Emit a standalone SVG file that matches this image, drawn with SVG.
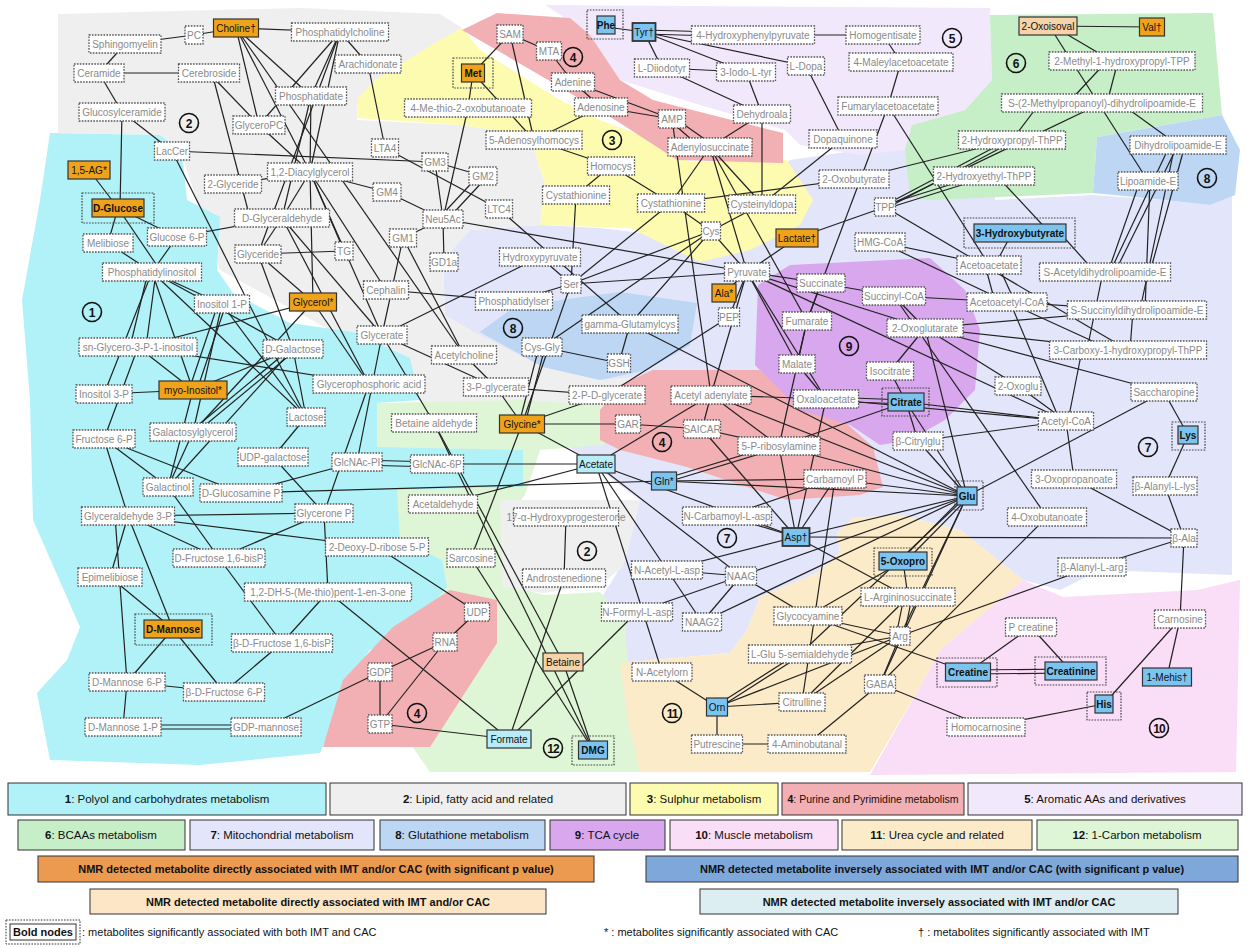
<svg xmlns="http://www.w3.org/2000/svg" width="1252" height="948" viewBox="0 0 1252 948">
<style>
text{font-family:"Liberation Sans",Arial,sans-serif;font-size:10px;text-anchor:middle}
.n rect{fill:#fff;stroke:#555;stroke-width:1.3;stroke-dasharray:1.6 1.3}
.n text{fill:#8a8a8a}
.f rect.i{stroke:#333;stroke-width:1.2}
.o rect.i{fill:#EFA31B}
.b rect.i{fill:#7CC4F0}
.c rect.i{fill:#B8ECF8}
.p rect.i{fill:#F7D3A9}
.f text{fill:#111}
.bd text{font-weight:bold}
rect.x{fill:none;stroke:#444;stroke-width:1.2;stroke-dasharray:1.6 1.3}
#edges line{stroke:#222;stroke-width:1.2}
.cl circle{fill:none;stroke:#111;stroke-width:1.6}
.cl text{font-size:12px;font-weight:bold;fill:#111}
.lg rect{stroke:#333;stroke-width:1}
.lg text{font-size:11.5px;fill:#111}
.lg text.s{font-size:11px}
.lg text.st{text-anchor:start}
</style>
<rect width="1252" height="948" fill="#fff"/>
<g id="regions">
<polygon fill="#E3E5FB" points="470,230 540,225 600,228 700,240 790,160 860,150 910,125 990,110 995,200 1093,195 1165,200 1210,205 1232,195 1232,575 1100,570 1060,590 1023,580 960,530 900,515 853,518 837,533 840,553 817,573 760,597 747,630 730,653 620,663 600,600 625,560 640,500 600,470 560,440 520,400 480,360 445,315 443,260"/>
<polygon fill="#EFEFEF" points="58,14 300,8 440,14 462,28 358,98 357,120 460,125 530,135 545,185 540,225 470,230 443,260 445,315 480,335 543,367 600,380 650,375 640,410 600,412 520,405 430,410 330,330 220,270 180,150 160,135 58,133"/>
<polygon fill="#DFF6D6" points="377,403 520,400 600,405 605,445 540,450 525,495 505,520 505,585 545,595 600,592 625,620 630,700 640,772 430,772 380,700 370,500"/>
<polygon fill="#B0F2F8" points="50,133 160,135 182,152 187,200 220,217 217,270 233,293 290,323 353,332 410,358 420,400 377,403 377,447 523,450 523,487 397,490 400,540 442,560 447,587 410,630 370,650 340,690 330,730 320,753 200,765 50,760 37,693 67,660 80,627 33,520 30,400 22,300 40,200"/>
<polygon fill="#EFEFEF" points="500,500 640,500 623,567 600,585 543,593 503,587"/>
<polygon fill="#F3B0B4" points="450,590 497,600 497,643 443,727 430,747 323,747 343,680 393,627"/>
<polygon fill="#FCEBC8" points="620,663 730,653 747,630 760,597 817,573 840,553 837,533 853,518 900,515 960,530 1023,580 940,650 920,687 870,772 640,772 628,720"/>
<polygon fill="#FADDF6" points="940,650 1023,580 1063,597 1197,590 1240,580 1236,772 870,775 920,687"/>
<polygon fill="#F1E8FB" points="545,5 990,8 992,80 965,110 912,125 905,150 860,155 800,145 785,130 700,105 620,80 590,35 565,18"/>
<polygon fill="#FDFBB0" points="462,28 440,40 375,80 358,98 357,118 460,125 530,135 545,185 540,225 630,228 700,262 750,250 800,225 813,200 800,180 787,160 690,162 640,135 600,120 560,100 520,75 480,50"/>
<polygon fill="#F3B0B4" points="462,30 497,13 570,18 590,35 620,80 653,100 783,133 783,163 677,160 620,123 570,93 543,77"/>
<polygon fill="#F3B0B4" points="600,410 620,385 653,370 760,370 777,383 820,400 873,447 883,487 860,495 787,500 687,467 620,450 600,440"/>
<polygon fill="#BCD6F4" points="480,332 510,310 560,300 620,292 697,303 690,345 647,370 600,380 543,367"/>
<polygon fill="#D8A7EE" points="758,285 790,265 930,258 965,290 980,330 975,390 945,420 910,440 880,445 850,425 800,410 780,390 755,365"/>
<polygon fill="#C6EFC8" points="990,15 1213,13 1222,115 1097,137 1093,193 930,200 910,197 905,150 912,125 965,110 992,80"/>
<polygon fill="#BCD6F4" points="1097,137 1222,115 1240,150 1235,195 1210,205 1165,200 1093,193"/>
</g>
<g id="edges">
<line x1="125" y1="44" x2="194" y2="35"/><line x1="194" y1="35" x2="236" y2="28"/><line x1="236" y1="28" x2="340" y2="32"/>
<line x1="125" y1="44" x2="99" y2="73"/><line x1="99" y1="73" x2="209" y2="73"/><line x1="99" y1="73" x2="122" y2="112"/>
<line x1="122" y1="112" x2="172" y2="151"/><line x1="122" y1="112" x2="120" y2="208"/><line x1="172" y1="151" x2="435" y2="162"/>
<line x1="172" y1="151" x2="306" y2="417"/><line x1="212" y1="73" x2="250" y2="218"/><line x1="209" y1="73" x2="259" y2="125"/>
<line x1="236" y1="28" x2="259" y2="125"/><line x1="236" y1="28" x2="311" y2="96"/><line x1="236" y1="28" x2="310" y2="172"/>
<line x1="236" y1="28" x2="464" y2="355"/><line x1="340" y1="32" x2="259" y2="125"/><line x1="340" y1="32" x2="311" y2="96"/>
<line x1="340" y1="32" x2="310" y2="172"/><line x1="340" y1="32" x2="368" y2="64"/><line x1="340" y1="32" x2="258" y2="254"/>
<line x1="368" y1="64" x2="385" y2="148"/><line x1="385" y1="148" x2="499" y2="209"/><line x1="310" y1="172" x2="387" y2="192"/>
<line x1="387" y1="192" x2="443" y2="219"/><line x1="435" y1="162" x2="483" y2="176"/><line x1="435" y1="162" x2="443" y2="219"/>
<line x1="480" y1="174" x2="440" y2="217"/><line x1="486" y1="178" x2="446" y2="221"/><line x1="468" y1="108" x2="443" y2="219"/>
<line x1="443" y1="219" x2="403" y2="238"/><line x1="443" y1="219" x2="444" y2="262"/><line x1="443" y1="219" x2="747" y2="272"/>
<line x1="259" y1="125" x2="310" y2="172"/><line x1="311" y1="96" x2="310" y2="172"/><line x1="311" y1="96" x2="282" y2="218"/>
<line x1="233" y1="184" x2="310" y2="172"/><line x1="310" y1="172" x2="282" y2="218"/><line x1="310" y1="172" x2="344" y2="251"/>
<line x1="310" y1="172" x2="313" y2="302"/><line x1="310" y1="172" x2="382" y2="335"/><line x1="282" y1="218" x2="177" y2="237"/>
<line x1="282" y1="218" x2="258" y2="254"/><line x1="282" y1="218" x2="382" y2="335"/><line x1="282" y1="218" x2="369" y2="384"/>
<line x1="258" y1="254" x2="313" y2="302"/><line x1="258" y1="254" x2="344" y2="251"/><line x1="258" y1="254" x2="293" y2="349"/>
<line x1="403" y1="238" x2="382" y2="335"/><line x1="403" y1="238" x2="464" y2="355"/><line x1="386" y1="290" x2="514" y2="301"/>
<line x1="386" y1="290" x2="310" y2="172"/><line x1="382" y1="335" x2="540" y2="257"/><line x1="382" y1="335" x2="496" y2="387"/>
<line x1="382" y1="335" x2="357" y2="462"/><line x1="382" y1="335" x2="434" y2="423"/><line x1="464" y1="355" x2="496" y2="387"/>
<line x1="496" y1="387" x2="607" y2="395"/><line x1="496" y1="387" x2="522" y2="424"/><line x1="607" y1="395" x2="522" y2="424"/>
<line x1="607" y1="395" x2="729" y2="317"/><line x1="571" y1="284" x2="514" y2="301"/><line x1="571" y1="284" x2="540" y2="257"/>
<line x1="571" y1="284" x2="522" y2="424"/><line x1="571" y1="284" x2="747" y2="272"/><line x1="571" y1="284" x2="711" y2="231"/>
<line x1="571" y1="284" x2="671" y2="203"/><line x1="576" y1="195" x2="571" y2="284"/><line x1="542" y1="347" x2="619" y2="363"/>
<line x1="630" y1="324" x2="619" y2="363"/><line x1="539" y1="347" x2="519" y2="424"/><line x1="545" y1="347" x2="525" y2="424"/>
<line x1="542" y1="347" x2="711" y2="231"/><line x1="522" y1="424" x2="628" y2="424"/><line x1="522" y1="424" x2="596" y2="464"/>
<line x1="522" y1="424" x2="471" y2="558"/><line x1="471" y1="558" x2="593" y2="750"/><line x1="434" y1="423" x2="563" y2="662"/>
<line x1="434" y1="423" x2="593" y2="750"/><line x1="563" y1="662" x2="593" y2="750"/><line x1="357" y1="460" x2="437" y2="462"/>
<line x1="357" y1="465" x2="437" y2="467"/><line x1="437" y1="464" x2="596" y2="464"/><line x1="241" y1="493" x2="357" y2="462"/>
<line x1="241" y1="493" x2="664" y2="481"/><line x1="443" y1="504" x2="596" y2="464"/><line x1="596" y1="464" x2="662" y2="672"/>
<line x1="596" y1="464" x2="711" y2="395"/><line x1="596" y1="464" x2="667" y2="570"/><line x1="596" y1="464" x2="741" y2="576"/>
<line x1="596" y1="464" x2="796" y2="537"/><line x1="566" y1="517" x2="564" y2="578"/><line x1="564" y1="578" x2="509" y2="739"/>
<line x1="637" y1="612" x2="509" y2="739"/><line x1="380" y1="724" x2="509" y2="739"/><line x1="328" y1="592" x2="509" y2="739"/>
<line x1="477" y1="612" x2="445" y2="642"/><line x1="445" y1="642" x2="380" y2="672"/><line x1="445" y1="642" x2="380" y2="724"/>
<line x1="380" y1="672" x2="380" y2="724"/><line x1="380" y1="672" x2="266" y2="727"/><line x1="477" y1="612" x2="377" y2="547"/>
<line x1="637" y1="612" x2="741" y2="576"/>
<line x1="118" y1="208" x2="89" y2="170"/><line x1="118" y1="208" x2="108" y2="243"/><line x1="118" y1="208" x2="177" y2="237"/>
<line x1="118" y1="208" x2="160" y2="270"/><line x1="108" y1="243" x2="152" y2="272"/><line x1="177" y1="237" x2="152" y2="272"/>
<line x1="152" y1="272" x2="222" y2="304"/><line x1="148" y1="272" x2="130" y2="347"/><line x1="156" y1="272" x2="146" y2="347"/>
<line x1="152" y1="272" x2="193" y2="390"/><line x1="152" y1="272" x2="104" y2="394"/><line x1="152" y1="272" x2="306" y2="417"/>
<line x1="152" y1="272" x2="293" y2="349"/><line x1="218" y1="304" x2="189" y2="390"/><line x1="226" y1="304" x2="197" y2="390"/>
<line x1="222" y1="304" x2="306" y2="417"/><line x1="222" y1="304" x2="193" y2="432"/><line x1="138" y1="347" x2="313" y2="302"/>
<line x1="138" y1="347" x2="369" y2="384"/><line x1="138" y1="347" x2="193" y2="390"/><line x1="138" y1="347" x2="104" y2="439"/>
<line x1="104" y1="394" x2="193" y2="390"/><line x1="193" y1="390" x2="168" y2="487"/><line x1="193" y1="390" x2="293" y2="349"/>
<line x1="313" y1="302" x2="369" y2="384"/><line x1="313" y1="302" x2="193" y2="432"/><line x1="290" y1="349" x2="190" y2="432"/>
<line x1="297" y1="349" x2="197" y2="432"/><line x1="293" y1="349" x2="306" y2="417"/><line x1="293" y1="349" x2="168" y2="487"/>
<line x1="193" y1="432" x2="168" y2="487"/><line x1="104" y1="439" x2="168" y2="487"/><line x1="104" y1="439" x2="128" y2="516"/>
<line x1="104" y1="439" x2="241" y2="493"/><line x1="306" y1="417" x2="273" y2="457"/><line x1="273" y1="457" x2="324" y2="513"/>
<line x1="168" y1="487" x2="219" y2="558"/><line x1="128" y1="516" x2="324" y2="513"/><line x1="128" y1="516" x2="219" y2="558"/>
<line x1="128" y1="516" x2="110" y2="577"/><line x1="128" y1="516" x2="173" y2="629"/><line x1="115" y1="516" x2="127" y2="682"/>
<line x1="128" y1="516" x2="377" y2="547"/><line x1="324" y1="513" x2="219" y2="558"/><line x1="324" y1="513" x2="369" y2="384"/>
<line x1="324" y1="513" x2="328" y2="592"/><line x1="110" y1="577" x2="173" y2="629"/><line x1="173" y1="629" x2="127" y2="682"/>
<line x1="173" y1="629" x2="224" y2="692"/><line x1="127" y1="682" x2="224" y2="692"/><line x1="127" y1="682" x2="123" y2="727"/>
<line x1="224" y1="692" x2="282" y2="643"/><line x1="219" y1="558" x2="282" y2="643"/><line x1="328" y1="592" x2="282" y2="643"/>
<line x1="123" y1="725" x2="266" y2="725"/><line x1="123" y1="729" x2="266" y2="729"/>
<line x1="473" y1="73" x2="468" y2="108"/><line x1="473" y1="73" x2="510" y2="34"/><line x1="473" y1="73" x2="534" y2="140"/>
<line x1="510" y1="34" x2="549" y2="51"/><line x1="510" y1="34" x2="534" y2="140"/><line x1="549" y1="51" x2="573" y2="82"/>
<line x1="573" y1="82" x2="601" y2="107"/><line x1="573" y1="82" x2="672" y2="119"/><line x1="601" y1="107" x2="672" y2="119"/>
<line x1="601" y1="107" x2="534" y2="140"/><line x1="534" y1="140" x2="611" y2="166"/><line x1="611" y1="166" x2="576" y2="195"/>
<line x1="611" y1="166" x2="671" y2="203"/><line x1="668" y1="119" x2="700" y2="147"/><line x1="676" y1="119" x2="716" y2="147"/>
<line x1="672" y1="119" x2="711" y2="395"/><line x1="710" y1="147" x2="762" y2="114"/><line x1="710" y1="147" x2="671" y2="203"/>
<line x1="710" y1="147" x2="762" y2="204"/><line x1="710" y1="147" x2="747" y2="272"/><line x1="710" y1="147" x2="807" y2="321"/>
<line x1="499" y1="209" x2="630" y2="324"/>
<line x1="606" y1="27" x2="644" y2="32"/><line x1="644" y1="30" x2="753" y2="33"/><line x1="644" y1="34" x2="753" y2="37"/>
<line x1="753" y1="35" x2="883" y2="35"/><line x1="883" y1="35" x2="901" y2="62"/><line x1="901" y1="62" x2="888" y2="106"/>
<line x1="644" y1="32" x2="662" y2="68"/><line x1="644" y1="32" x2="746" y2="72"/><line x1="644" y1="32" x2="806" y2="66"/>
<line x1="662" y1="68" x2="746" y2="72"/><line x1="662" y1="68" x2="762" y2="114"/><line x1="746" y1="72" x2="762" y2="114"/>
<line x1="806" y1="66" x2="843" y2="139"/><line x1="762" y1="114" x2="762" y2="204"/><line x1="843" y1="139" x2="762" y2="204"/>
<line x1="888" y1="106" x2="807" y2="321"/><line x1="888" y1="106" x2="989" y2="265"/><line x1="671" y1="203" x2="854" y2="179"/>
<line x1="854" y1="179" x2="1012" y2="140"/><line x1="671" y1="203" x2="711" y2="231"/><line x1="711" y1="231" x2="762" y2="204"/>
<line x1="711" y1="231" x2="747" y2="272"/><line x1="711" y1="231" x2="630" y2="324"/><line x1="797" y1="238" x2="747" y2="272"/>
<line x1="797" y1="238" x2="885" y2="207"/><line x1="885" y1="205" x2="1012" y2="138"/><line x1="885" y1="209" x2="1012" y2="142"/>
<line x1="885" y1="205" x2="984" y2="174"/><line x1="885" y1="209" x2="984" y2="178"/><line x1="885" y1="207" x2="1102" y2="103"/>
<line x1="885" y1="207" x2="1128" y2="350"/><line x1="880" y1="242" x2="989" y2="265"/><line x1="880" y1="242" x2="1007" y2="302"/>
<line x1="1048" y1="26" x2="1152" y2="27"/><line x1="1068" y1="35" x2="1102" y2="55"/><line x1="1055" y1="35" x2="1148" y2="181"/>
<line x1="1107" y1="61" x2="1068" y2="103"/><line x1="1118" y1="61" x2="1107" y2="103"/><line x1="1040" y1="103" x2="1012" y2="140"/>
<line x1="1120" y1="103" x2="1178" y2="145"/><line x1="997" y1="176" x2="1050" y2="233"/><line x1="1012" y1="233" x2="995" y2="265"/>
<line x1="1060" y1="233" x2="1095" y2="272"/><line x1="1170" y1="145" x2="1110" y2="272"/><line x1="1178" y1="145" x2="1115" y2="272"/>
<line x1="1185" y1="145" x2="1150" y2="272"/><line x1="1175" y1="145" x2="1140" y2="310"/><line x1="1140" y1="181" x2="1108" y2="272"/>
<line x1="1150" y1="181" x2="1145" y2="310"/><line x1="985" y1="265" x2="995" y2="302"/><line x1="998" y1="265" x2="1015" y2="302"/>
<line x1="1007" y1="302" x2="1137" y2="310"/><line x1="1007" y1="302" x2="1112" y2="350"/><line x1="1010" y1="302" x2="1060" y2="421"/>
<line x1="1103" y1="272" x2="1087" y2="350"/><line x1="1133" y1="310" x2="1130" y2="350"/><line x1="1082" y1="350" x2="1068" y2="421"/>
<line x1="925" y1="328" x2="1137" y2="310"/><line x1="925" y1="328" x2="1128" y2="350"/><line x1="925" y1="328" x2="1164" y2="392"/>
<line x1="925" y1="328" x2="1018" y2="386"/><line x1="925" y1="328" x2="967" y2="496"/><line x1="1018" y1="386" x2="1066" y2="421"/>
<line x1="1066" y1="421" x2="906" y2="402"/><line x1="1066" y1="421" x2="826" y2="399"/><line x1="1066" y1="421" x2="1074" y2="479"/>
<line x1="1066" y1="421" x2="918" y2="441"/><line x1="1074" y1="479" x2="1184" y2="538"/><line x1="1164" y1="392" x2="1188" y2="435"/>
<line x1="1164" y1="392" x2="967" y2="496"/><line x1="1188" y1="435" x2="1165" y2="486"/><line x1="1165" y1="486" x2="1184" y2="538"/>
<line x1="1047" y1="517" x2="894" y2="296"/><line x1="1047" y1="517" x2="880" y2="684"/><line x1="796" y1="537" x2="1184" y2="538"/>
<line x1="1184" y1="538" x2="1092" y2="567"/><line x1="1092" y1="567" x2="900" y2="636"/><line x1="1184" y1="538" x2="1180" y2="619"/>
<line x1="1180" y1="619" x2="1104" y2="704"/><line x1="1180" y1="619" x2="1167" y2="677"/><line x1="1104" y1="704" x2="986" y2="727"/>
<line x1="986" y1="727" x2="880" y2="684"/><line x1="1031" y1="627" x2="968" y2="672"/><line x1="1031" y1="627" x2="1071" y2="671"/>
<line x1="968" y1="670" x2="1071" y2="669"/><line x1="968" y1="674" x2="1071" y2="673"/><line x1="808" y1="616" x2="968" y2="672"/>
<line x1="821" y1="283" x2="894" y2="296"/><line x1="821" y1="283" x2="807" y2="321"/><line x1="807" y1="321" x2="797" y2="364"/>
<line x1="797" y1="364" x2="826" y2="399"/><line x1="826" y1="397" x2="906" y2="400"/><line x1="826" y1="401" x2="906" y2="404"/>
<line x1="906" y1="402" x2="890" y2="371"/><line x1="890" y1="371" x2="925" y2="328"/><line x1="894" y1="296" x2="925" y2="328"/>
<line x1="894" y1="296" x2="1007" y2="302"/><line x1="747" y1="272" x2="826" y2="399"/><line x1="747" y1="272" x2="797" y2="364"/>
<line x1="747" y1="272" x2="1066" y2="421"/><line x1="747" y1="272" x2="729" y2="317"/><line x1="747" y1="272" x2="724" y2="293"/>
<line x1="747" y1="272" x2="711" y2="395"/><line x1="747" y1="272" x2="925" y2="328"/><line x1="747" y1="272" x2="821" y2="283"/>
<line x1="826" y1="399" x2="796" y2="537"/><line x1="906" y1="402" x2="918" y2="441"/><line x1="918" y1="441" x2="967" y2="496"/>
<line x1="906" y1="402" x2="967" y2="496"/><line x1="711" y1="395" x2="826" y2="399"/><line x1="711" y1="395" x2="702" y2="429"/>
<line x1="711" y1="395" x2="779" y2="446"/><line x1="711" y1="395" x2="967" y2="496"/><line x1="628" y1="424" x2="702" y2="429"/>
<line x1="702" y1="429" x2="779" y2="446"/><line x1="779" y1="444" x2="664" y2="479"/><line x1="779" y1="448" x2="664" y2="483"/>
<line x1="779" y1="446" x2="967" y2="496"/><line x1="779" y1="446" x2="796" y2="537"/><line x1="779" y1="446" x2="906" y2="402"/>
<line x1="835" y1="479" x2="967" y2="496"/><line x1="835" y1="479" x2="796" y2="537"/><line x1="835" y1="479" x2="802" y2="702"/>
<line x1="835" y1="479" x2="727" y2="516"/><line x1="727" y1="516" x2="796" y2="537"/><line x1="664" y1="481" x2="967" y2="496"/>
<line x1="664" y1="481" x2="835" y2="479"/><line x1="630" y1="324" x2="967" y2="496"/><line x1="807" y1="321" x2="779" y2="446"/>
<line x1="796" y1="537" x2="702" y2="429"/><line x1="796" y1="537" x2="667" y2="570"/><line x1="796" y1="537" x2="908" y2="597"/>
<line x1="796" y1="537" x2="967" y2="496"/><line x1="667" y1="570" x2="741" y2="576"/><line x1="667" y1="570" x2="702" y2="622"/>
<line x1="741" y1="576" x2="702" y2="622"/><line x1="741" y1="576" x2="967" y2="496"/><line x1="702" y1="622" x2="967" y2="496"/>
<line x1="741" y1="576" x2="808" y2="616"/><line x1="662" y1="672" x2="717" y2="707"/><line x1="717" y1="707" x2="802" y2="702"/>
<line x1="717" y1="705" x2="800" y2="652"/><line x1="717" y1="709" x2="800" y2="656"/><line x1="717" y1="707" x2="717" y2="744"/>
<line x1="717" y1="707" x2="900" y2="636"/><line x1="717" y1="744" x2="807" y2="744"/><line x1="807" y1="744" x2="880" y2="684"/>
<line x1="802" y1="702" x2="900" y2="636"/><line x1="802" y1="702" x2="908" y2="597"/><line x1="800" y1="654" x2="967" y2="496"/>
<line x1="800" y1="654" x2="900" y2="636"/><line x1="808" y1="616" x2="900" y2="636"/><line x1="808" y1="616" x2="903" y2="561"/>
<line x1="904" y1="597" x2="896" y2="636"/><line x1="912" y1="597" x2="904" y2="636"/><line x1="903" y1="561" x2="908" y2="597"/>
<line x1="900" y1="561" x2="964" y2="496"/><line x1="906" y1="561" x2="970" y2="496"/><line x1="880" y1="684" x2="900" y2="636"/>
<line x1="880" y1="684" x2="967" y2="496"/><line x1="900" y1="636" x2="967" y2="496"/>
</g>
<g id="nodes">
<g id="sphingomyelin" class="n"><rect x="89" y="35" width="72" height="18"/><text x="125" y="47.5">Sphingomyelin</text></g>
<g id="pc" class="n"><rect x="185" y="26" width="18" height="18"/><text x="194" y="38.5">PC</text></g>
<g id="phosphatidylcholine" class="n"><rect x="291.5" y="23" width="97" height="18"/><text x="340" y="35.5">Phosphatidylcholine</text></g>
<g id="ceramide" class="n"><rect x="74" y="64" width="50" height="18"/><text x="99" y="76.5">Ceramide</text></g>
<g id="cerebroside" class="n"><rect x="178.5" y="64" width="61" height="18"/><text x="209" y="76.5">Cerebroside</text></g>
<g id="arachidonate" class="n"><rect x="335" y="55" width="66" height="18"/><text x="368" y="67.5">Arachidonate</text></g>
<g id="phosphatidate" class="n"><rect x="275.5" y="87" width="71" height="18"/><text x="311" y="99.5">Phosphatidate</text></g>
<g id="glucosylceramide" class="n"><rect x="79" y="103" width="86" height="18"/><text x="122" y="115.5">Glucosylceramide</text></g>
<g id="glyceropc" class="n"><rect x="233" y="116" width="52" height="18"/><text x="259" y="128.5">GlyceroPC</text></g>
<g id="lta4" class="n"><rect x="371.5" y="139" width="27" height="18"/><text x="385" y="151.5">LTA4</text></g>
<g id="laccer" class="n"><rect x="154.5" y="142" width="35" height="18"/><text x="172" y="154.5">LacCer</text></g>
<g id="gm3" class="n"><rect x="422" y="153" width="26" height="18"/><text x="435" y="165.5">GM3</text></g>
<g id="diacylglycerol" class="n"><rect x="267.5" y="163" width="85" height="18"/><text x="310" y="175.5">1,2-Diacylglycerol</text></g>
<g id="gm2" class="n"><rect x="469" y="167" width="28" height="18"/><text x="483" y="179.5">GM2</text></g>
<g id="glyceride2" class="n"><rect x="204.5" y="175" width="57" height="18"/><text x="233" y="187.5">2-Glyceride</text></g>
<g id="gm4" class="n"><rect x="373" y="183" width="28" height="18"/><text x="387" y="195.5">GM4</text></g>
<g id="ltc4" class="n"><rect x="485.5" y="200" width="27" height="18"/><text x="499" y="212.5">LTC4</text></g>
<g id="d-glyceraldehyde" class="n"><rect x="234.5" y="209" width="95" height="18"/><text x="282" y="221.5">D-Glyceraldehyde</text></g>
<g id="neu5ac" class="n"><rect x="423" y="210" width="40" height="18"/><text x="443" y="222.5">Neu5Ac</text></g>
<g id="glucose6p" class="n"><rect x="147.5" y="228" width="59" height="18"/><text x="177" y="240.5">Glucose 6-P</text></g>
<g id="gm1" class="n"><rect x="389.5" y="229" width="27" height="18"/><text x="403" y="241.5">GM1</text></g>
<g id="melibiose" class="n"><rect x="83" y="234" width="50" height="18"/><text x="108" y="246.5">Melibiose</text></g>
<g id="tg" class="n"><rect x="335" y="242" width="18" height="18"/><text x="344" y="254.5">TG</text></g>
<g id="glyceride" class="n"><rect x="235" y="245" width="46" height="18"/><text x="258" y="257.5">Glyceride</text></g>
<g id="gd1a" class="n"><rect x="430" y="253" width="28" height="18"/><text x="444" y="265.5">GD1a</text></g>
<g id="hydroxypyruvate" class="n"><rect x="499.5" y="248" width="81" height="18"/><text x="540" y="260.5">Hydroxypyruvate</text></g>
<g id="phosphatidylinositol" class="n"><rect x="102.5" y="263" width="99" height="18"/><text x="152" y="275.5">Phosphatidylinositol</text></g>
<g id="ser" class="n"><rect x="561" y="275" width="20" height="18"/><text x="571" y="287.5">Ser</text></g>
<g id="cephalin" class="n"><rect x="363.5" y="281" width="45" height="18"/><text x="386" y="293.5">Cephalin</text></g>
<g id="phosphatidylser" class="n"><rect x="475.5" y="292" width="77" height="18"/><text x="514" y="304.5">Phosphatidylser</text></g>
<g id="inositol1p" class="n"><rect x="194.5" y="295" width="55" height="18"/><text x="222" y="307.5">Inositol 1-P</text></g>
<g id="glycerate" class="n"><rect x="357" y="326" width="50" height="18"/><text x="382" y="338.5">Glycerate</text></g>
<g id="cysgly" class="n"><rect x="522" y="338" width="40" height="18"/><text x="542" y="350.5">Cys-Gly</text></g>
<g id="snglycero" class="n"><rect x="79" y="338" width="118" height="18"/><text x="138" y="350.5">sn-Glycero-3-P-1-inositol</text></g>
<g id="d-galactose" class="n"><rect x="263" y="340" width="60" height="18"/><text x="293" y="352.5">D-Galactose</text></g>
<g id="acetylcholine" class="n"><rect x="431.5" y="346" width="65" height="18"/><text x="464" y="358.5">Acetylcholine</text></g>
<g id="glycerophosphoric" class="n"><rect x="313" y="375" width="112" height="18"/><text x="369" y="387.5">Glycerophosphoric acid</text></g>
<g id="pglycerate3" class="n"><rect x="463.5" y="378" width="65" height="18"/><text x="496" y="390.5">3-P-glycerate</text></g>
<g id="inositol3p" class="n"><rect x="76" y="385" width="56" height="18"/><text x="104" y="397.5">Inositol 3-P</text></g>
<g id="lactose" class="n"><rect x="287" y="408" width="38" height="18"/><text x="306" y="420.5">Lactose</text></g>
<g id="betainealdehyde" class="n"><rect x="391.5" y="414" width="85" height="18"/><text x="434" y="426.5">Betaine aldehyde</text></g>
<g id="galactosylglycerol" class="n"><rect x="150" y="423" width="86" height="18"/><text x="193" y="435.5">Galactosylglycerol</text></g>
<g id="fructose6p" class="n"><rect x="73" y="430" width="62" height="18"/><text x="104" y="442.5">Fructose 6-P</text></g>
<g id="udpgalactose" class="n"><rect x="238" y="448" width="70" height="18"/><text x="273" y="460.5">UDP-galactose</text></g>
<g id="glcnacpi" class="n"><rect x="332" y="453" width="50" height="18"/><text x="357" y="465.5">GlcNAc-PI</text></g>
<g id="glcnac6p" class="n"><rect x="410.5" y="455" width="53" height="18"/><text x="437" y="467.5">GlcNAc-6P</text></g>
<g id="galactinol" class="n"><rect x="143" y="478" width="50" height="18"/><text x="168" y="490.5">Galactinol</text></g>
<g id="glucosaminep" class="n"><rect x="200" y="484" width="82" height="18"/><text x="241" y="496.5">D-Glucosamine P</text></g>
<g id="acetaldehyde" class="n"><rect x="408.5" y="495" width="69" height="18"/><text x="443" y="507.5">Acetaldehyde</text></g>
<g id="glyceronep" class="n"><rect x="295" y="504" width="58" height="18"/><text x="324" y="516.5">Glycerone P</text></g>
<g id="glyceraldehyde3p" class="n"><rect x="81.5" y="507" width="93" height="18"/><text x="128" y="519.5">Glyceraldehyde 3-P</text></g>
<g id="hydroxyprogesterone" class="n"><rect x="513.5" y="508" width="105" height="18"/><text x="566" y="520.5">17-α-Hydroxyprogesterone</text></g>
<g id="deoxyribose" class="n"><rect x="325.5" y="538" width="103" height="18"/><text x="377" y="550.5">2-Deoxy-D-ribose 5-P</text></g>
<g id="fructosebisp" class="n"><rect x="173" y="549" width="92" height="18"/><text x="219" y="561.5">D-Fructose 1,6-bisP</text></g>
<g id="sarcosine" class="n"><rect x="447" y="549" width="48" height="18"/><text x="471" y="561.5">Sarcosine</text></g>
<g id="epimelibiose" class="n"><rect x="78" y="568" width="64" height="18"/><text x="110" y="580.5">Epimelibiose</text></g>
<g id="androstenedione" class="n"><rect x="522.5" y="569" width="83" height="18"/><text x="564" y="581.5">Androstenedione</text></g>
<g id="dhmethio" class="n"><rect x="244.5" y="583" width="167" height="18"/><text x="328" y="595.5">1,2-DH-5-(Me-thio)pent-1-en-3-one</text></g>
<g id="udp" class="n"><rect x="464.5" y="603" width="25" height="18"/><text x="477" y="615.5">UDP</text></g>
<g id="nformylasp" class="n"><rect x="601.5" y="603" width="71" height="18"/><text x="637" y="615.5">N-Formyl-L-asp</text></g>
<g id="rna" class="n"><rect x="433" y="633" width="24" height="18"/><text x="445" y="645.5">RNA</text></g>
<g id="bfructosebisp" class="n"><rect x="231.5" y="634" width="101" height="18"/><text x="282" y="646.5">β-D-Fructose 1,6-bisP</text></g>
<g id="gdp" class="n"><rect x="368" y="663" width="24" height="18"/><text x="380" y="675.5">GDP</text></g>
<g id="mannose6p" class="n"><rect x="89" y="673" width="76" height="18"/><text x="127" y="685.5">D-Mannose 6-P</text></g>
<g id="bfructose6p" class="n"><rect x="183.5" y="683" width="81" height="18"/><text x="224" y="695.5">β-D-Fructose 6-P</text></g>
<g id="gtp" class="n"><rect x="368" y="715" width="24" height="18"/><text x="380" y="727.5">GTP</text></g>
<g id="mannose1p" class="n"><rect x="85" y="718" width="76" height="18"/><text x="123" y="730.5">D-Mannose 1-P</text></g>
<g id="gdpmannose" class="n"><rect x="231" y="718" width="70" height="18"/><text x="266" y="730.5">GDP-mannose</text></g>
<g id="sam" class="n"><rect x="497" y="25" width="26" height="18"/><text x="510" y="37.5">SAM</text></g>
<g id="mta" class="n"><rect x="536.5" y="42" width="25" height="18"/><text x="549" y="54.5">MTA</text></g>
<g id="adenine" class="n"><rect x="551.5" y="73" width="43" height="18"/><text x="573" y="85.5">Adenine</text></g>
<g id="adenosine" class="n"><rect x="574.5" y="98" width="53" height="18"/><text x="601" y="110.5">Adenosine</text></g>
<g id="methiooxobutanoate" class="n"><rect x="404.5" y="99" width="127" height="18"/><text x="468" y="111.5">4-Me-thio-2-oxobutanoate</text></g>
<g id="adenosylhomocys" class="n"><rect x="486" y="131" width="96" height="18"/><text x="534" y="143.5">5-Adenosylhomocys</text></g>
<g id="homocys" class="n"><rect x="587.5" y="157" width="47" height="18"/><text x="611" y="169.5">Homocys</text></g>
<g id="cystathionine1" class="n"><rect x="542.5" y="186" width="67" height="18"/><text x="576" y="198.5">Cystathionine</text></g>
<g id="hydroxyphenylpyruvate" class="n"><rect x="691.5" y="26" width="123" height="18"/><text x="753" y="38.5">4-Hydroxyphenylpyruvate</text></g>
<g id="homogentisate" class="n"><rect x="846" y="26" width="74" height="18"/><text x="883" y="38.5">Homogentisate</text></g>
<g id="diiodotyr" class="n"><rect x="634.5" y="59" width="55" height="18"/><text x="662" y="71.5">L-Diiodotyr</text></g>
<g id="iodotyr" class="n"><rect x="716.5" y="63" width="59" height="18"/><text x="746" y="75.5">3-Iodo-L-tyr</text></g>
<g id="ldopa" class="n"><rect x="787.5" y="57" width="37" height="18"/><text x="806" y="69.5">L-Dopa</text></g>
<g id="maleylacetoacetate" class="n"><rect x="849" y="53" width="104" height="18"/><text x="901" y="65.5">4-Maleylacetoacetate</text></g>
<g id="amp" class="n"><rect x="658.5" y="110" width="27" height="18"/><text x="672" y="122.5">AMP</text></g>
<g id="dehydroala" class="n"><rect x="733.5" y="105" width="57" height="18"/><text x="762" y="117.5">Dehydroala</text></g>
<g id="fumarylacetoacetate" class="n"><rect x="838" y="97" width="100" height="18"/><text x="888" y="109.5">Fumarylacetoacetate</text></g>
<g id="adenylosuccinate" class="n"><rect x="668" y="138" width="84" height="18"/><text x="710" y="150.5">Adenylosuccinate</text></g>
<g id="dopaquinone" class="n"><rect x="809" y="130" width="68" height="18"/><text x="843" y="142.5">Dopaquinone</text></g>
<g id="oxobutyrate" class="n"><rect x="819" y="170" width="70" height="18"/><text x="854" y="182.5">2-Oxobutyrate</text></g>
<g id="cystathionine2" class="n"><rect x="637.5" y="194" width="67" height="18"/><text x="671" y="206.5">Cystathionine</text></g>
<g id="cysteinyldopa" class="n"><rect x="728.5" y="195" width="67" height="18"/><text x="762" y="207.5">Cysteinyldopa</text></g>
<g id="tpp" class="n"><rect x="874.5" y="198" width="21" height="18"/><text x="885" y="210.5">TPP</text></g>
<g id="cys" class="n"><rect x="701.5" y="222" width="19" height="18"/><text x="711" y="234.5">Cys</text></g>
<g id="hmgcoa" class="n"><rect x="855" y="233" width="50" height="18"/><text x="880" y="245.5">HMG-CoA</text></g>
<g id="pyruvate" class="n"><rect x="724.5" y="263" width="45" height="18"/><text x="747" y="275.5">Pyruvate</text></g>
<g id="methylhydroxypropyltpp" class="n"><rect x="1049" y="52" width="146" height="18"/><text x="1122" y="64.5">2-Methyl-1-hydroxypropyl-TPP</text></g>
<g id="methylpropanoyl" class="n"><rect x="1001.5" y="94" width="201" height="18"/><text x="1102" y="106.5">S-(2-Methylpropanoyl)-dihydrolipoamide-E</text></g>
<g id="hydroxypropylthpp" class="n"><rect x="958.5" y="131" width="107" height="18"/><text x="1012" y="143.5">2-Hydroxypropyl-ThPP</text></g>
<g id="dihydrolipoamide" class="n"><rect x="1130" y="136" width="96" height="18"/><text x="1178" y="148.5">Dihydrolipoamide-E</text></g>
<g id="hydroxyethylthpp" class="n"><rect x="933.5" y="167" width="101" height="18"/><text x="984" y="179.5">2-Hydroxyethyl-ThPP</text></g>
<g id="lipoamide" class="n"><rect x="1118" y="172" width="60" height="18"/><text x="1148" y="184.5">Lipoamide-E</text></g>
<g id="acetoacetate" class="n"><rect x="957" y="256" width="64" height="18"/><text x="989" y="268.5">Acetoacetate</text></g>
<g id="acetyldihydrolipoamide" class="n"><rect x="1039.5" y="263" width="131" height="18"/><text x="1105" y="275.5">S-Acetyldihydrolipoamide-E</text></g>
<g id="succinate" class="n"><rect x="797" y="274" width="48" height="18"/><text x="821" y="286.5">Succinate</text></g>
<g id="succinylcoa" class="n"><rect x="862.5" y="287" width="63" height="18"/><text x="894" y="299.5">Succinyl-CoA</text></g>
<g id="acetoacetylcoa" class="n"><rect x="967" y="293" width="80" height="18"/><text x="1007" y="305.5">Acetoacetyl-CoA</text></g>
<g id="succinyldihydrolipoamide" class="n"><rect x="1067.5" y="301" width="139" height="18"/><text x="1137" y="313.5">S-Succinyldihydrolipoamide-E</text></g>
<g id="pep" class="n"><rect x="718.5" y="308" width="21" height="18"/><text x="729" y="320.5">PEP</text></g>
<g id="gammaglutamylcys" class="n"><rect x="582" y="315" width="96" height="18"/><text x="630" y="327.5">gamma-Glutamylcys</text></g>
<g id="fumarate" class="n"><rect x="782.5" y="312" width="49" height="18"/><text x="807" y="324.5">Fumarate</text></g>
<g id="oxoglutarate" class="n"><rect x="887" y="319" width="76" height="18"/><text x="925" y="331.5">2-Oxoglutarate</text></g>
<g id="carboxyhydroxypropyl" class="n"><rect x="1049.5" y="341" width="157" height="18"/><text x="1128" y="353.5">3-Carboxy-1-hydroxypropyl-ThPP</text></g>
<g id="malate" class="n"><rect x="779" y="355" width="36" height="18"/><text x="797" y="367.5">Malate</text></g>
<g id="gsh" class="n"><rect x="607.5" y="354" width="23" height="18"/><text x="619" y="366.5">GSH</text></g>
<g id="isocitrate" class="n"><rect x="866.5" y="362" width="47" height="18"/><text x="890" y="374.5">Isocitrate</text></g>
<g id="oxoglu" class="n"><rect x="995" y="377" width="46" height="18"/><text x="1018" y="389.5">2-Oxoglu</text></g>
<g id="saccharopine" class="n"><rect x="1131" y="383" width="66" height="18"/><text x="1164" y="395.5">Saccharopine</text></g>
<g id="acetyladenylate" class="n"><rect x="671" y="386" width="80" height="18"/><text x="711" y="398.5">Acetyl adenylate</text></g>
<g id="oxaloacetate" class="n"><rect x="793.5" y="390" width="65" height="18"/><text x="826" y="402.5">Oxaloacetate</text></g>
<g id="pdglycerate" class="n"><rect x="569" y="386" width="76" height="18"/><text x="607" y="398.5">2-P-D-glycerate</text></g>
<g id="acetylcoa" class="n"><rect x="1038.5" y="412" width="55" height="18"/><text x="1066" y="424.5">Acetyl-CoA</text></g>
<g id="gar" class="n"><rect x="615.5" y="415" width="25" height="18"/><text x="628" y="427.5">GAR</text></g>
<g id="saicar" class="n"><rect x="683.5" y="420" width="37" height="18"/><text x="702" y="432.5">SAICAR</text></g>
<g id="citrylglu" class="n"><rect x="893" y="432" width="50" height="18"/><text x="918" y="444.5">β-Citrylglu</text></g>
<g id="pribosylamine" class="n"><rect x="738" y="437" width="82" height="18"/><text x="779" y="449.5">5-P-ribosylamine</text></g>
<g id="carbamoylp" class="n"><rect x="804" y="470" width="62" height="18"/><text x="835" y="482.5">Carbamoyl P</text></g>
<g id="oxopropanoate" class="n"><rect x="1031.5" y="470" width="85" height="18"/><text x="1074" y="482.5">3-Oxopropanoate</text></g>
<g id="alanyllys" class="n"><rect x="1133" y="477" width="64" height="18"/><text x="1165" y="489.5">β-Alanyl-L-lys</text></g>
<g id="ncarbamoylasp" class="n"><rect x="682.5" y="507" width="89" height="18"/><text x="727" y="519.5">N-Carbamoyl-L-asp</text></g>
<g id="oxobutanoate" class="n"><rect x="1007.5" y="508" width="79" height="18"/><text x="1047" y="520.5">4-Oxobutanoate</text></g>
<g id="bala" class="n"><rect x="1171" y="529" width="26" height="18"/><text x="1184" y="541.5">β-Ala</text></g>
<g id="nacetylasp" class="n"><rect x="631.5" y="561" width="71" height="18"/><text x="667" y="573.5">N-Acetyl-L-asp</text></g>
<g id="naag" class="n"><rect x="725.5" y="567" width="31" height="18"/><text x="741" y="579.5">NAAG</text></g>
<g id="alanylarg" class="n"><rect x="1058" y="558" width="68" height="18"/><text x="1092" y="570.5">β-Alanyl-L-arg</text></g>
<g id="argininosuccinate" class="n"><rect x="861" y="588" width="94" height="18"/><text x="908" y="600.5">L-Argininosuccinate</text></g>
<g id="naag2" class="n"><rect x="682.5" y="613" width="39" height="18"/><text x="702" y="625.5">NAAG2</text></g>
<g id="glycocyamine" class="n"><rect x="774" y="607" width="68" height="18"/><text x="808" y="619.5">Glycocyamine</text></g>
<g id="carnosine" class="n"><rect x="1154.5" y="610" width="51" height="18"/><text x="1180" y="622.5">Carnosine</text></g>
<g id="pcreatine" class="n"><rect x="1005.5" y="618" width="51" height="18"/><text x="1031" y="630.5">P creatine</text></g>
<g id="arg" class="n"><rect x="890" y="627" width="20" height="18"/><text x="900" y="639.5">Arg</text></g>
<g id="glusemialdehyde" class="n"><rect x="748.5" y="645" width="103" height="18"/><text x="800" y="657.5">L-Glu 5-semialdehyde</text></g>
<g id="nacetylorn" class="n"><rect x="632" y="663" width="60" height="18"/><text x="662" y="675.5">N-Acetylorn</text></g>
<g id="gaba" class="n"><rect x="864.5" y="675" width="31" height="18"/><text x="880" y="687.5">GABA</text></g>
<g id="citrulline" class="n"><rect x="779" y="693" width="46" height="18"/><text x="802" y="705.5">Citrulline</text></g>
<g id="homocarnosine" class="n"><rect x="947" y="718" width="78" height="18"/><text x="986" y="730.5">Homocarnosine</text></g>
<g id="putrescine" class="n"><rect x="691.5" y="735" width="51" height="18"/><text x="717" y="747.5">Putrescine</text></g>
<g id="aminobutanal" class="n"><rect x="768" y="735" width="78" height="18"/><text x="807" y="747.5">4-Aminobutanal</text></g>
<g id="choline" class="f o"><rect class="i" x="213.5" y="19" width="45" height="18"/><text x="236" y="31.5">Choline†</text></g>
<g id="ag15" class="f o"><rect class="i" x="68" y="161" width="42" height="18"/><text x="89" y="173.5">1,5-AG*</text></g>
<g id="dglucose" class="f o bd"><rect class="x" x="82" y="193" width="72" height="30"/><rect class="i" x="92" y="199" width="52" height="18"/><text x="118" y="211.5">D-Glucose</text></g>
<g id="met" class="f o bd"><rect class="x" x="453" y="58" width="40" height="30"/><rect class="i" x="461.5" y="64" width="23" height="18"/><text x="473" y="76.5">Met</text></g>
<g id="glycerol" class="f o"><rect class="i" x="289.5" y="293" width="47" height="18"/><text x="313" y="305.5">Glycerol*</text></g>
<g id="myoinositol" class="f o"><rect class="i" x="159" y="381" width="68" height="18"/><text x="193" y="393.5">myo-Inositol*</text></g>
<g id="dmannose" class="f o bd"><rect class="x" x="135" y="614" width="77" height="31"/><rect class="i" x="144" y="620" width="58" height="18"/><text x="173" y="632.5">D-Mannose</text></g>
<g id="glycine" class="f o"><rect class="i" x="499.5" y="415" width="45" height="18"/><text x="522" y="427.5">Glycine*</text></g>
<g id="lactate" class="f o"><rect class="i" x="776" y="229" width="42" height="18"/><text x="797" y="241.5">Lactate†</text></g>
<g id="ala" class="f o"><rect class="i" x="712" y="284" width="24" height="18"/><text x="724" y="296.5">Ala*</text></g>
<g id="val" class="f o"><rect class="i" x="1139.5" y="18" width="25" height="18"/><text x="1152" y="30.5">Val†</text></g>
<g id="oxoisoval" class="f p"><rect class="i" x="1019" y="17" width="58" height="18"/><text x="1048" y="29.5">2-Oxoisoval</text></g>
<g id="betaine" class="f p"><rect class="i" x="543" y="653" width="40" height="18"/><text x="563" y="665.5">Betaine</text></g>
<g id="phe" class="f b bd"><rect class="x" x="587" y="10" width="36" height="29"/><rect class="i" x="597" y="16" width="18" height="18"/><text x="606" y="28.5">Phe</text></g>
<g id="tyr" class="f b"><rect class="i" x="632.5" y="23" width="23" height="18" style="stroke-width:1.8"/><text x="644" y="35.5">Tyr†</text></g>
<g id="hydroxybutyrate" class="f b bd"><rect class="x" x="964" y="218" width="111" height="30"/><rect class="i" x="974" y="224" width="92" height="18"/><text x="1020" y="236.5">3-Hydroxybutyrate</text></g>
<g id="citrate" class="f b bd"><rect class="x" x="882" y="388" width="47" height="28"/><rect class="i" x="888" y="393" width="36" height="18"/><text x="906" y="405.5">Citrate</text></g>
<g id="lys" class="f b bd"><rect class="x" x="1172" y="422" width="33" height="28"/><rect class="i" x="1178" y="426" width="20" height="18"/><text x="1188" y="438.5">Lys</text></g>
<g id="glu" class="f b bd"><rect class="x" x="955" y="481" width="28" height="29"/><rect class="i" x="957" y="487" width="20" height="18"/><text x="967" y="499.5">Glu</text></g>
<g id="asp" class="f b"><rect class="i" x="782.5" y="528" width="27" height="18" style="stroke-width:1.8"/><text x="796" y="540.5">Asp†</text></g>
<g id="oxopro" class="f b bd"><rect class="x" x="874" y="548" width="58" height="28"/><rect class="i" x="879" y="552" width="48" height="18"/><text x="903" y="564.5">5-Oxopro</text></g>
<g id="orn" class="f b"><rect class="i" x="706.5" y="698" width="21" height="18"/><text x="717" y="710.5">Orn</text></g>
<g id="creatine" class="f b bd"><rect class="x" x="937" y="658" width="60" height="29"/><rect class="i" x="945.5" y="663" width="45" height="18"/><text x="968" y="675.5">Creatine</text></g>
<g id="creatinine" class="f b bd"><rect class="x" x="1035" y="657" width="71" height="28"/><rect class="i" x="1045" y="662" width="52" height="18"/><text x="1071" y="674.5">Creatinine</text></g>
<g id="mehis" class="f b"><rect class="i" x="1142.5" y="668" width="49" height="18"/><text x="1167" y="680.5">1-Mehis†</text></g>
<g id="his" class="f b bd"><rect class="x" x="1087" y="692" width="34" height="28"/><rect class="i" x="1095" y="695" width="18" height="18"/><text x="1104" y="707.5">His</text></g>
<g id="dmg" class="f b bd"><rect class="x" x="572" y="736" width="42" height="29"/><rect class="i" x="578.5" y="741" width="29" height="18"/><text x="593" y="753.5">DMG</text></g>
<g id="gln" class="f b"><rect class="i" x="651.5" y="472" width="25" height="18"/><text x="664" y="484.5">Gln*</text></g>
<g id="acetate" class="f c"><rect class="i" x="577" y="455" width="38" height="18"/><text x="596" y="467.5">Acetate</text></g>
<g id="formate" class="f c"><rect class="i" x="487" y="730" width="44" height="18"/><text x="509" y="742.5">Formate</text></g>
</g>
<g id="labels" class="cl">
<circle cx="92" cy="312" r="9.5"/><text x="92" y="316.5">1</text>
<circle cx="189" cy="123" r="9.5"/><text x="189" y="127.5">2</text>
<circle cx="587" cy="551" r="9.5"/><text x="587" y="555.5">2</text>
<circle cx="612" cy="140" r="9.5"/><text x="612" y="144.5">3</text>
<circle cx="573" cy="57" r="9.5"/><text x="573" y="61.5">4</text>
<circle cx="662" cy="442" r="9.5"/><text x="662" y="446.5">4</text>
<circle cx="417" cy="713" r="9.5"/><text x="417" y="717.5">4</text>
<circle cx="952" cy="38" r="9.5"/><text x="952" y="42.5">5</text>
<circle cx="1016" cy="63" r="9.5"/><text x="1016" y="67.5">6</text>
<circle cx="1148" cy="447" r="9.5"/><text x="1148" y="451.5">7</text>
<circle cx="727" cy="538" r="9.5"/><text x="727" y="542.5">7</text>
<circle cx="1207" cy="178" r="9.5"/><text x="1207" y="182.5">8</text>
<circle cx="513" cy="328" r="9.5"/><text x="513" y="332.5">8</text>
<circle cx="849" cy="346" r="9.5"/><text x="849" y="350.5">9</text>
<circle cx="1159" cy="728" r="9.5"/><text x="1159" y="732.5" style="letter-spacing:-1px">10</text>
<circle cx="672" cy="713" r="9.5"/><text x="672" y="717.5" style="letter-spacing:-1px">11</text>
<circle cx="553" cy="748" r="9.5"/><text x="553" y="752.5" style="letter-spacing:-1px">12</text>
</g>
<g id="legend" class="lg">
<rect x="8" y="783" width="318" height="32" fill="#B0F2F8"/><text x="167" y="803"><tspan font-weight="bold">1</tspan>: Polyol and carbohydrates metabolism</text>
<rect x="330" y="783" width="296" height="32" fill="#EFEFEF"/><text x="478" y="803"><tspan font-weight="bold">2</tspan>: Lipid, fatty acid and related</text>
<rect x="630" y="783" width="148" height="32" fill="#FDFBB0"/><text x="704" y="803"><tspan font-weight="bold">3</tspan>: Sulphur metabolism</text>
<rect x="782" y="783" width="182" height="32" fill="#F3B0B4"/><text x="873" y="803" style="font-size:10.5px"><tspan font-weight="bold">4</tspan>: Purine and Pyrimidine metabolism</text>
<rect x="968" y="783" width="274" height="32" fill="#F1E8FB"/><text x="1105" y="803"><tspan font-weight="bold">5</tspan>: Aromatic AAs and derivatives</text>
<rect x="18" y="820" width="167" height="30" fill="#C6EFC8"/><text x="101" y="839"><tspan font-weight="bold">6</tspan>: BCAAs metabolism</text>
<rect x="190" y="820" width="184" height="30" fill="#E3E5FB"/><text x="282" y="839"><tspan font-weight="bold">7</tspan>: Mitochondrial metabolism</text>
<rect x="380" y="820" width="165" height="30" fill="#BCD6F4"/><text x="462" y="839"><tspan font-weight="bold">8</tspan>: Glutathione metabolism</text>
<rect x="550" y="820" width="115" height="30" fill="#D8A7EE"/><text x="607" y="839"><tspan font-weight="bold">9</tspan>: TCA cycle</text>
<rect x="670" y="820" width="168" height="30" fill="#FADDF6"/><text x="754" y="839"><tspan font-weight="bold">10</tspan>: Muscle metabolism</text>
<rect x="842" y="820" width="190" height="30" fill="#FCEBC8"/><text x="937" y="839"><tspan font-weight="bold">11</tspan>: Urea cycle and related</text>
<rect x="1037" y="820" width="201" height="30" fill="#DFF6D6"/><text x="1137" y="839"><tspan font-weight="bold">12</tspan>: 1-Carbon metabolism</text>
<rect x="38" y="856" width="556" height="26" fill="#EC9A50" stroke="none"/><text class="s" x="316" y="873" font-weight="bold">NMR detected metabolite directly associated with IMT and/or CAC (with significant p value)</text>
<rect x="646" y="856" width="592" height="26" fill="#7EA8DA" stroke="none"/><text class="s" x="942" y="873" font-weight="bold">NMR detected metabolite inversely associated with IMT and/or CAC (with significant p value)</text>
<rect x="90" y="889" width="456" height="25" fill="#FCE6C6" stroke="none"/><text class="s" x="318" y="905.5" font-weight="bold">NMR detected metabolite directly associated with IMT and/or CAC</text>
<rect x="700" y="889" width="478" height="25" fill="#DCEEF2" stroke="none"/><text class="s" x="939" y="905.5" font-weight="bold">NMR detected metabolite inversely associated with IMT and/or CAC</text>
<rect x="6" y="920" width="74" height="24" fill="none" stroke-dasharray="1.6 1.3"/><rect x="10" y="924" width="66" height="16" fill="#fff"/>
<text class="s" x="43" y="936" font-weight="bold">Bold nodes</text>
<text class="s st" x="82" y="936">: metabolites significantly associated with both IMT and CAC</text>
<text class="s st" x="604" y="936">* : metabolites significantly associated with CAC</text>
<text class="s st" x="918" y="936">† : metabolites significantly associated with IMT</text>
</g>
</svg>
